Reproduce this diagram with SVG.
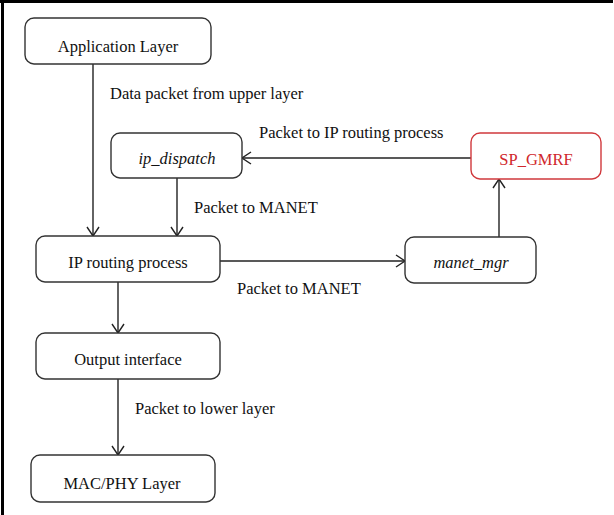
<svg xmlns="http://www.w3.org/2000/svg" width="614" height="515" viewBox="0 0 614 515">
<style>
.box{fill:#fff;stroke:#333;stroke-width:1.4}
.red{stroke:#d0383c}
text{font-family:'Liberation Serif','Times New Roman',Times,serif;font-size:16.5px;fill:#111}
.c{text-anchor:middle}
.i{font-style:italic}
.rt{fill:#d0282c}
.ln{stroke:#222;stroke-width:1.4;fill:none;marker-end:url(#ah)}
</style>
<defs>
<marker id="ah" markerWidth="14" markerHeight="14" refX="10" refY="7" orient="auto" markerUnits="userSpaceOnUse">
<path d="M1,1 L10,7 L1,13" fill="none" stroke="#222" stroke-width="1.4"/>
</marker>
</defs>
<rect width="614" height="515" fill="#fff"/>
<g id="frame">
<rect x="0" y="0" width="613" height="3" fill="#000"/>
<rect x="1" y="0" width="3" height="515" fill="#000"/>
</g>
<g id="connectors">
<line class="ln" x1="93" y1="64" x2="93" y2="236"/>
<line class="ln" x1="177" y1="178" x2="177" y2="236"/>
<line class="ln" x1="220" y1="261" x2="405" y2="261"/>
<line class="ln" x1="499" y1="237" x2="499" y2="179"/>
<line class="ln" x1="471" y1="158" x2="242" y2="158"/>
<line class="ln" x1="118" y1="282" x2="118" y2="333"/>
<line class="ln" x1="118" y1="379" x2="118" y2="455"/>
<text x="110" y="99">Data packet from upper layer</text>
<text x="259" y="138">Packet to IP routing process</text>
<text x="194" y="213">Packet to MANET</text>
<text x="237" y="294">Packet to MANET</text>
<text x="135" y="414">Packet to lower layer</text>
</g>
<g id="app">
<rect class="box" x="25" y="18" width="186" height="46" rx="9"/>
<text class="c" x="118" y="52">Application Layer</text>
</g>
<g id="ip_dispatch">
<rect class="box" x="111" y="133" width="131" height="45" rx="9"/>
<text class="c i" x="177" y="164">ip_dispatch</text>
</g>
<g id="sp_gmrf">
<rect class="box red" x="471" y="133" width="130" height="46" rx="9"/>
<text class="c rt" x="536" y="165">SP_GMRF</text>
</g>
<g id="ip_routing">
<rect class="box" x="36" y="236" width="184" height="46" rx="9"/>
<text class="c" x="128" y="268">IP routing process</text>
</g>
<g id="manet_mgr">
<rect class="box" x="405" y="237" width="131" height="46" rx="9"/>
<text class="c i" x="471" y="268">manet_mgr</text>
</g>
<g id="output">
<rect class="box" x="36" y="333" width="184" height="46" rx="9"/>
<text class="c" x="128" y="365">Output interface</text>
</g>
<g id="macphy">
<rect class="box" x="31" y="455" width="184" height="47" rx="9"/>
<text class="c" x="122" y="489">MAC/PHY Layer</text>
</g>
</svg>
